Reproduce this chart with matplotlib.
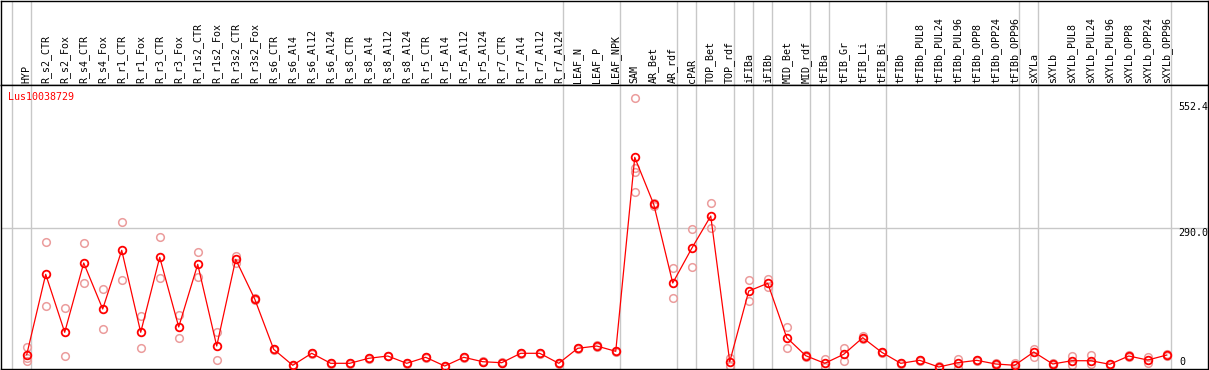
import numpy as np
import matplotlib
matplotlib.use("Agg")
import matplotlib.pyplot as plt

# --- data ---------------------------------------------------------------

gene = "Lus10038729"

samples = ["HYP",
           "R_s2_CTR", "R_s2_Fox", "R_s4_CTR", "R_s4_Fox", "R_r1_CTR", "R_r1_Fox",
           "R_r3_CTR", "R_r3_Fox", "R_r1s2_CTR", "R_r1s2_Fox", "R_r3s2_CTR", "R_r3s2_Fox",
           "R_s6_CTR", "R_s6_Al4", "R_s6_Al12", "R_s6_Al24",
           "R_s8_CTR", "R_s8_Al4", "R_s8_Al12", "R_s8_Al24",
           "R_r5_CTR", "R_r5_Al4", "R_r5_Al12", "R_r5_Al24",
           "R_r7_CTR", "R_r7_Al4", "R_r7_Al12", "R_r7_Al24",
           "LEAF_N", "LEAF_P", "LEAF_NPK",
           "SAM", "AR_Bet", "AR_rdf", "cPAR", "TOP_Bet", "TOP_rdf",
           "iFIBa", "iFIBb", "MID_Bet", "MID_rdf",
           "tFIBa", "tFIB_Gr", "tFIB_Li", "tFIB_Bi",
           "tFIBb", "tFIBb_PUL8", "tFIBb_PUL24", "tFIBb_PUL96",
           "tFIBb_OPP8", "tFIBb_OPP24", "tFIBb_OPP96",
           "sXYLa", "sXYLb", "sXYLb_PUL8", "sXYLb_PUL24", "sXYLb_PUL96",
           "sXYLb_OPP8", "sXYLb_OPP24", "sXYLb_OPP96"]

means = [34.8,
         197.1, 80.1, 220.0, 127.1, 245.6, 80.1,
         231.5, 90.8, 217.3, 52.4, 227.4, 147.3,
         45.7, 13.5, 37.7, 17.5,
         17.5, 27.6, 32.2, 17.5,
         29.6, 12.0, 29.6, 20.7,
         18.7, 37.7, 37.7, 17.5,
         47.8, 52.4, 41.7,
         433.3, 338.4, 179.6, 249.6, 314.8, 20.7,
         163.4, 179.0, 69.2, 32.8,
         17.5, 35.7, 69.2, 39.7,
         17.5, 23.5, 10.0, 18.7,
         23.5, 16.1, 13.5,
         40.3, 16.1, 22.7, 22.7, 15.5,
         32.2, 24.1, 34.2]

# replicate values per sample
reps = [[51.0, 28.8, 22.1],
        [261.7, 132.5], [128.5, 32.2], [259.7, 179.0], [166.9, 86.1], [303.3, 185.0], [113.0, 47.8],
        [271.8, 189.1], [115.0, 67.9], [241.6, 192.3], [80.1, 23.5], [234.1, 219.3], [149.0, 145.5],
        [47.0, 44.5], [14.5, 12.5], [38.5, 37.0], [18.5, 16.5],
        [18.5, 16.5], [28.5, 26.5], [33.0, 31.5], [18.5, 16.5],
        [30.5, 28.5], [13.0, 11.0], [30.5, 28.5], [21.5, 20.0],
        [19.5, 18.0], [38.5, 37.0], [38.5, 37.0], [18.5, 16.5],
        [49.0, 46.5], [53.5, 51.0], [43.0, 40.5],
        [552.4, 411.1, 404.3, 362.7], [340.5, 336.0], [209.3, 148.7], [288.6, 211.3], [340.5, 290.0], [27.6, 12.0],
        [185.6, 143.2], [188.3, 170.9], [90.2, 48.9], [34.5, 31.0],
        [25.6, 10.6], [49.4, 22.2], [72.6, 65.9], [41.0, 38.5],
        [18.5, 16.5], [24.5, 22.5], [12.0, 8.5], [26.8, 8.6],
        [25.0, 22.0], [17.5, 14.5], [18.7, 8.3],
        [47.0, 30.8], [17.5, 14.5], [32.2, 13.5], [34.2, 15.5], [16.5, 14.5],
        [33.5, 31.0], [30.2, 18.0], [35.5, 33.0]]

# last sample of each group (grey separators)
group_ends = [-1, 0, 28, 31, 34, 35, 37, 38, 39, 41, 42, 45, 52, 53, 60]

ymin, ymax = 6.0, 579.3

# --- figure -------------------------------------------------------------

W, H = 1209, 370
fig = plt.figure(figsize=(W / 100, H / 100), dpi=100)
plt.rcParams['font.family'] = 'DejaVu Sans Mono'

x = np.arange(len(samples))
xlim = (-1.353, 62.17)
grey = "#c8c8c8"

# header with sample names
hx = fig.add_axes([1 / W, 1 - 85 / H, 1207 / W, 84.5 / H])
hx.set_xlim(xlim)
hx.set_ylim(85, 0)
hx.set_xticks([])
hx.set_yticks([])
for s in hx.spines.values():
    s.set_color("black")
    s.set_linewidth(1)
for b in group_ends:
    hx.axvline(b + 0.23, color=grey, lw=1, zorder=0)
for i, name in enumerate(samples):
    hx.text(i, 83, name, rotation=90, ha="center", va="bottom", fontsize=7.2)

# main plot
ax = fig.add_axes([1 / W, 1 / H, 1207 / W, 284 / H])
ax.set_xlim(xlim)
ax.set_ylim(ymin, ymax)
ax.set_xticks([])
ax.set_yticks([])
for s in ax.spines.values():
    s.set_color("black")
    s.set_linewidth(1)
for b in group_ends:
    ax.axvline(b + 0.23, color=grey, lw=1, zorder=0)
ax.axhline(290.0, color=grey, lw=1, zorder=0)

for i, r in enumerate(reps):
    ax.plot([i] * len(r), r, "o", ms=5.5, mfc="none", mec="#eb9c9c",
            mew=1.1, clip_on=False, zorder=2)

ax.plot(x, means, "-", color="red", lw=0.9, zorder=3)
ax.plot(x, means, "o", ms=5.5, mfc="none", mec="red", mew=1.3, zorder=4)

# labels
fig.text(8 / W, 1 - 97.5 / H, gene, color="red", fontsize=7.2, ha="left", va="center")
fig.text(1178 / W, 1 - 106.5 / H, "552.4", fontsize=7.2, ha="left", va="center")
fig.text(1178 / W, 1 - 232.5 / H, "290.0", fontsize=7.2, ha="left", va="center")
fig.text(1179 / W, 1 - 362 / H, "0", fontsize=7.2, ha="left", va="center")

fig.savefig("out.png", dpi=100)
